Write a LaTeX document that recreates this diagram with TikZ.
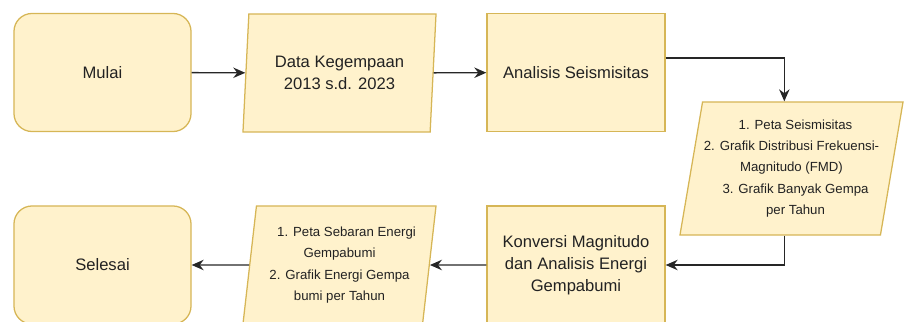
\documentclass[tikz,border=0pt]{standalone}
\usepackage{fontspec}
\setmainfont{Liberation Sans}
\usetikzlibrary{positioning, arrows.meta, shapes.geometric}
\definecolor{boxfill}{HTML}{FFF2CC}
\definecolor{boxline}{HTML}{D6B656}
\definecolor{txt}{HTML}{222222}
\tikzset{
  % Flowchart
  termbox/.style  = { draw=boxline, line width=0.9pt, fill=boxfill, rounded corners=0.45cm,
                       minimum width=4.425cm, minimum height=2.95cm, align=center,
                       text=txt, font=\fontsize{11.8}{15.5}\selectfont },
  procbox/.style  = { draw=boxline, line width=0.9pt, fill=boxfill,
                       minimum width=4.45cm, minimum height=2.95cm, align=center,
                       text=txt, font=\fontsize{11.8}{15.8}\selectfont },
  iobox/.style    = { draw=boxline, line width=0.9pt, fill=boxfill, trapezium,
                       trapezium left angle=80, trapezium right angle=100,
                       trapezium stretches body, inner sep=0pt,
                       minimum width=4.825cm, minimum height=2.95cm, align=center,
                       text=txt, font=\fontsize{11.8}{15.5}\selectfont },
  smalltext/.style= { font=\fontsize{9.4}{15.2}\selectfont },
  flowline/.style = { line width=1pt, black!85, -{Stealth[length=3mm, width=2.6mm]} }
}
\begin{document}
\begin{tikzpicture}[x=0.025cm, y=-0.025cm]
  \useasboundingbox (0,0) rectangle (904,322);

  % --- top row ------------------------------------------------------
  \node[termbox] (mulai)    at (102.5,72.5) {Mulai};
  \node[iobox]   (data)     at (339.5,73)   {Data Kegempaan\\2013 s.d. 2023};
  \node[procbox] (analisis) at (576,72.5)   {Analisis Seismisitas};

  % output of the seismicity analysis
  \node[iobox, smalltext, trapezium left angle=77, trapezium right angle=103,
        minimum width=5.575cm, minimum height=3.325cm] (hasil1) at (791.5,168.5)
        {\hspace*{0.2cm}1. Peta Seismisitas\\2. Grafik Distribusi Frekuensi-\\Magnitudo (FMD)\\
         \hspace*{0.2cm}3. Grafik Banyak Gempa\\\hspace*{0.2cm}per Tahun};

  % --- bottom row ---------------------------------------------------
  \node[procbox] (konversi) at (576,265)   {Konversi Magnitudo\\dan Analisis Energi\\Gempabumi};
  \node[iobox, smalltext] (hasil2) at (339.5,265)
        {\hspace*{0.35cm}1. Peta Sebaran Energi\\Gempabumi\\2. Grafik Energi Gempa\\bumi per Tahun};
  \node[termbox] (selesai)  at (102.5,265) {Selesai};

  % --- connectors ---------------------------------------------------
  \draw[flowline] (mulai) -- (data);
  \draw[flowline] (data) -- (analisis);
  \draw[flowline] ([yshift=0.36cm]analisis.east) -| ([xshift=-0.18cm]hasil1.north);
  \draw[flowline] ([xshift=-0.18cm]hasil1.south) |- (konversi.east);
  \draw[flowline] (konversi) -- (hasil2);
  \draw[flowline] (hasil2) -- (selesai);

\end{tikzpicture}
\end{document}
